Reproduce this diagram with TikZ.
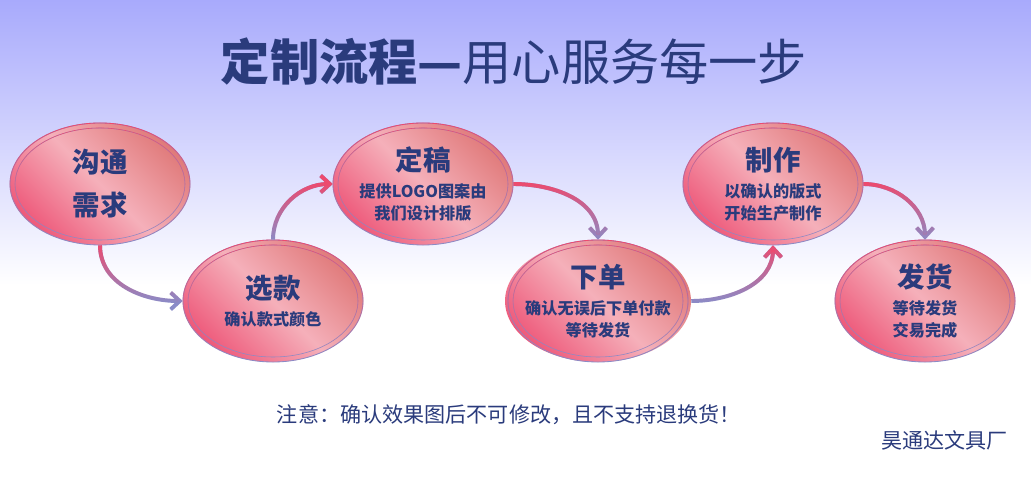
\documentclass[tikz,border=0pt]{standalone}
\usepackage{fontspec}
\setmainfont{Noto Sans CJK SC}
\usetikzlibrary{arrows.meta,shapes.geometric,fadings}
\definecolor{navy}{HTML}{2A3B7C}
\definecolor{bgtop}{HTML}{A8AAFC}
\definecolor{hotpink}{HTML}{EE5A7B}
\definecolor{blushpink}{HTML}{F5B0BA}
\definecolor{salmon}{HTML}{E07A7A}
\definecolor{rosy}{HTML}{EE4A6E}
\definecolor{lilac}{HTML}{8A8CC8}
\newcommand{\stagehead}[1]{{\fontsize{19.5}{22}\selectfont #1}}

\begin{document}
\begin{tikzpicture}[x=0.025cm,y=0.025cm,
    stage/.style={ellipse, minimum width=4.5cm, minimum height=3.05cm, inner sep=0pt, inner xsep=-5pt,
        align=center, text=navy, font=\fontsize{11.5}{15.6}\selectfont\bfseries,
        left color=hotpink, right color=salmon, middle color=blushpink, shading angle=135},
    ring/.style={draw=lilac, line width=0.6pt, postaction={draw=rosy, path fading=south}},
    flow/.style={draw=lilac, line width=2.8pt, -{Straight Barb[length=6.5pt,width=12pt]},
        postaction={draw=rosy, path fading=south}}]
  \useasboundingbox (0,0) rectangle (1031,-479);
  % background
  \fill[top color=bgtop, bottom color=white] (0,0) rectangle (1031,-285);
  \fill[white] (0,-285) rectangle (1031,-479);

  \node[text=navy] (title) at (514,-62) {\fontsize{35}{40}\selectfont\bfseries 定制流程—\mdseries 用心服务每一步};

  % stages
  \node[stage] (G)  at (100,-184) {\stagehead{沟通}\\[11pt]\stagehead{需求}};
  \node[stage] (X)  at (273,-301) {\stagehead{选款}\\[4pt]确认款式颜色};
  \node[stage] (D)  at (423,-184) {\stagehead{定稿}\\[4pt]提供LOGO图案由\\我们设计排版};
  \node[stage] (XD) at (598,-301) {\stagehead{下单}\\[4pt]确认无误后下单付款\\等待发货};
  \node[stage] (Z)  at (773,-184) {\stagehead{制作}\\[4pt]以确认的版式\\开始生产制作};
  \node[stage] (F)  at (925,-301) {\stagehead{发货}\\[4pt]等待发货\\交易完成};
  \foreach \s in {G,X,D,XD,Z,F}{
    \draw[ring] (\s.center) ellipse [x radius=90, y radius=61];
    \draw[ring, line width=0.4pt] (\s.center) ellipse [x radius=85, y radius=56];
  }

  % connectors
  \path (G.south) edge[flow, out=-90, in=180] (X.west)
        (X.north) edge[flow, out=90,  in=180] (D.west)
        (D.east)  edge[flow, out=0,   in=90]  (XD.north)
        (XD.east) edge[flow, out=0,   in=-90] (Z.south)
        (Z.east)  edge[flow, out=0,   in=90]  (F.north);

  \node[text=navy] (note) at (509,-415) {\fontsize{15}{18}\selectfont 注意：确认效果图后不可修改，且不支持退换货！};
  \node[text=navy, anchor=east] (brand) at (1013,-440) {\fontsize{15}{18}\selectfont 昊通达文具厂};
\end{tikzpicture}
\end{document}
